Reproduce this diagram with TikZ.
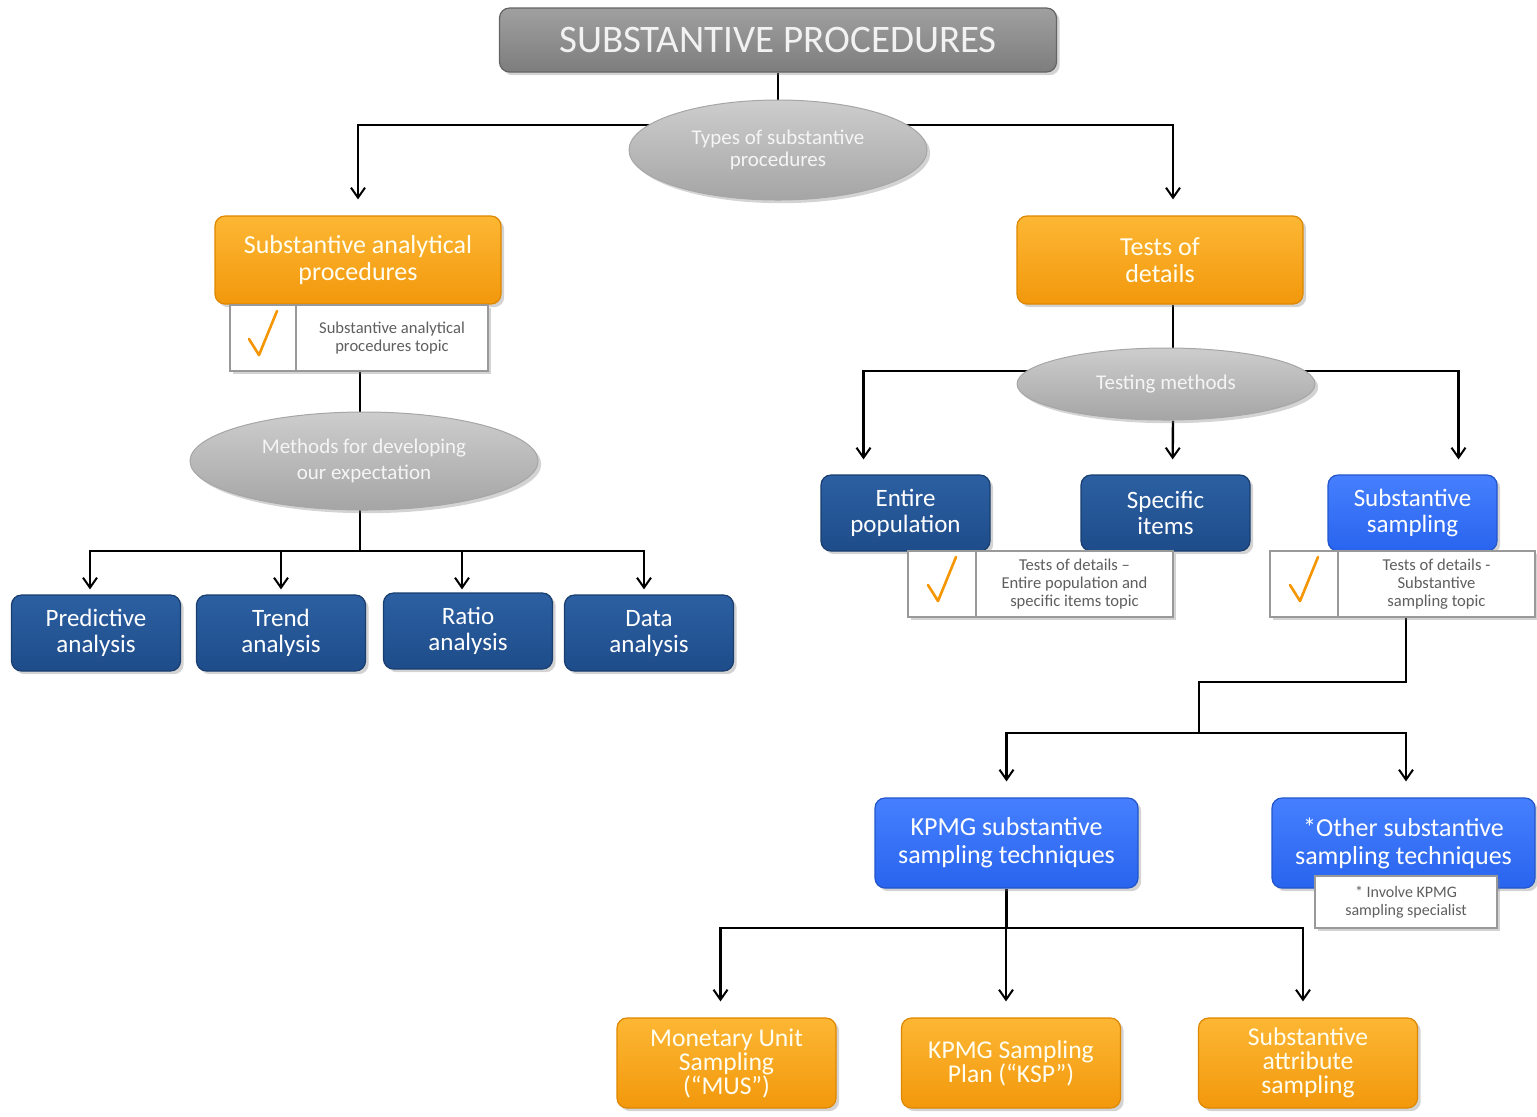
\documentclass[tikz,border=0pt]{standalone}
\usepackage{fontspec}
\setmainfont{Carlito}
\usetikzlibrary{shadows,arrows.meta,calc,shapes.geometric}
\pgfdeclarelayer{bg}\pgfsetlayers{bg,main}
\definecolor{oraT}{RGB}{253,183,52}
\definecolor{oraB}{RGB}{242,152,12}
\definecolor{oraD}{RGB}{222,135,0}
\definecolor{dblueT}{RGB}{44,96,162}
\definecolor{dblueB}{RGB}{30,76,138}
\definecolor{bblueT}{RGB}{70,128,255}
\definecolor{bblueB}{RGB}{40,100,238}
\definecolor{gtitleT}{RGB}{160,160,160}
\definecolor{gtitleB}{RGB}{125,125,125}
\definecolor{gellT}{RGB}{205,205,205}
\definecolor{gellB}{RGB}{165,165,165}
\definecolor{smalltxt}{RGB}{95,95,95}
\definecolor{chk}{RGB}{245,150,0}
\begin{document}
\begin{tikzpicture}[x=0.5pt,y=-0.5pt,
  shad/.style={drop shadow={shadow xshift=1.6pt,shadow yshift=-1.6pt,opacity=0.35}},
  basebox/.style={rectangle, rounded corners=5pt, align=center, text=white, inner sep=2pt, shad, line width=0.6pt},
  tbox/.style={basebox, draw=gtitleB!80!black, top color=gtitleT, bottom color=gtitleB, text=white!95!black,
     minimum width=278.5pt, minimum height=32pt, font=\fontsize{19.5}{21}\selectfont},
  obox/.style={basebox, draw=oraD, top color=oraT, bottom color=oraB, text=white!94!yellow,
     minimum width=143pt, minimum height=44pt, font=\fontsize{13}{13.5}\selectfont},
  oboxs/.style={obox, minimum width=109.5pt, minimum height=45pt, font=\fontsize{12.8}{12}\selectfont},
  dbox/.style={basebox, draw=dblueB!80!black, top color=dblueT, bottom color=dblueB,
     minimum width=84.5pt, minimum height=38pt, font=\fontsize{12.5}{13}\selectfont},
  bbox/.style={basebox, draw=bblueB!85!black, top color=bblueT, bottom color=bblueB,
     minimum width=84.5pt, minimum height=38pt, font=\fontsize{12.5}{13}\selectfont},
  bboxw/.style={bbox, minimum width=131.5pt, minimum height=45pt, font=\fontsize{13}{14}\selectfont},
  ellnode/.style={ellipse, draw=gray!70, line width=0.5pt, top color=gellT, bottom color=gellB, text=white!96!black,
     align=center, inner sep=0pt, shad, font=\fontsize{10.5}{11}\selectfont},
  chkcell/.style={rectangle, draw=gray!80, fill=white, line width=0.6pt, minimum width=33pt, minimum height=33pt, shad},
  txtcell/.style={rectangle, draw=gray!80, fill=white, line width=0.6pt, minimum height=33pt, align=center,
     text=smalltxt, inner sep=1pt, font=\fontsize{8.3}{9}\selectfont, shad},
  conn/.style={line width=1.2pt, black},
  arr/.style={conn, -{Straight Barb[length=5pt,width=7pt,line width=1pt]}},
  chkmark/.style={draw=chk, line width=1.3pt, line join=round, line cap=round}
]
\useasboundingbox (0,0) rectangle (1537,1116);

% ---------- nodes ----------
\node[tbox] (title) at (778,40) {SUBSTANTIVE PROCEDURES};
\node[ellnode, minimum width=149pt, minimum height=50pt] (ell1) at (778,150) {Types of substantive\\procedures};

\node[obox] (sap) at (358,260) {Substantive analytical\\procedures};
\node[obox] (tod) at (1160,260) {Tests of\\details};

\node[chkcell] (c1) at (263,338) {};
\node[txtcell, minimum width=96pt] (t1) at (392,338) {Substantive analytical\\procedures topic};

\node[ellnode, minimum width=174pt, minimum height=49pt, font=\fontsize{10.5}{13}\selectfont] (ell2) at (364,461) {Methods for developing\\our expectation};

\node[dbox] (pa) at (96,633) {Predictive\\analysis};
\node[dbox] (ta) at (281,633) {Trend\\analysis};
\node[dbox] (ra) at (468,631) {Ratio\\analysis};
\node[dbox] (da) at (649,633) {Data\\analysis};

\node[ellnode, minimum width=149pt, minimum height=36pt] (ell3) at (1166,384) {Testing methods};

\node[dbox] (ep) at (905.5,513) {Entire\\population};
\node[dbox] (si) at (1165.5,513) {Specific\\items};
\node[bbox] (ss) at (1412.5,513) {Substantive\\sampling};

\node[chkcell, minimum width=34pt] (c2) at (942,584) {};
\node[txtcell, minimum width=98.5pt] (t2) at (1074.5,584) {Tests of details –\\Entire population and\\specific items topic};
\node[chkcell, minimum width=34pt] (c3) at (1304,584) {};
\node[txtcell, minimum width=98.5pt] (t3) at (1436.5,584) {Tests of details -\\Substantive\\sampling topic};

\node[bboxw] (kst) at (1006.5,843) {KPMG substantive\\sampling techniques};
\node[bboxw] (ost) at (1403.5,843) {*Other substantive\\sampling techniques};
\node[txtcell, minimum width=91pt, minimum height=26pt, font=\fontsize{8}{9}\selectfont] (n1) at (1406,902) {* Involve KPMG\\sampling specialist};

\node[oboxs] (mus) at (726.5,1063) {Monetary Unit\\Sampling\\(“MUS”)};
\node[oboxs] (ksp) at (1011,1063) {KPMG Sampling\\Plan (“KSP”)};
\node[oboxs] (saa) at (1308,1063) {Substantive\\attribute\\sampling};

% check marks
\foreach \c in {c1,c2,c3}{
  \draw[chkmark] ($(\c.center)+(-14,1)$) -- ($(\c.center)+(-4,17)$) -- ($(\c.center)+(14,-27)$);
}

% ---------- connectors ----------
\coordinate (h1) at (778,125);
\coordinate (h2) at (360,551);
\coordinate (h3) at (1166,371);
\coordinate (h4) at (1199,682);
\coordinate (h5) at (1199,733);
\coordinate (h6) at (1006.5,928);
\begin{pgfonlayer}{bg}
  \draw[conn] (title.south) -- (ell1.north);
  \draw[arr, shorten >=8pt] (h1) -| (sap.north);
  \draw[arr, shorten >=8pt] (h1) -| ([xshift=6.5pt]tod.north);

  \draw[conn] (t1.south -| h2) -- (h2);
  \draw[arr, shorten >=2.5pt] (h2) -| ([xshift=-3pt]pa.north);
  \draw[arr, shorten >=2.5pt] (h2) -| (ta.north);
  \draw[arr, shorten >=1.5pt] (h2) -| ([xshift=-3pt]ra.north);
  \draw[arr, shorten >=2.5pt] (h2) -| ([xshift=-2.5pt]da.north);

  \draw[conn] ([xshift=6.5pt]tod.south) -- ([xshift=6.5pt]tod.south |- ell3.north);
  \draw[arr, shorten >=7.5pt] (h3) -| ([xshift=-21pt]ep.north);
  \draw[arr, shorten >=7.5pt] (h3) -| ([xshift=23pt]ss.north);
  \draw[arr, shorten >=7.5pt] ([xshift=3.5pt]ell3.south) -- ([xshift=3.5pt]si.north);

  \draw[conn] ([xshift=-15.25pt]t3.south) |- (h4) -- (h5);
  \draw[arr, shorten >=8pt] (h5) -| (kst.north);
  \draw[arr, shorten >=8pt] (h5) -| ([xshift=1.25pt]ost.north);

  \draw[conn] (kst.south) -- (h6);
  \draw[arr, shorten >=8pt] (h6) -| ([xshift=-3pt]mus.north);
  \draw[arr, shorten >=8pt] (h6) -| ([xshift=-2.5pt]ksp.north);
  \draw[arr, shorten >=8pt] (h6) -| ([xshift=-2.5pt]saa.north);
\end{pgfonlayer}
\end{tikzpicture}
\end{document}
